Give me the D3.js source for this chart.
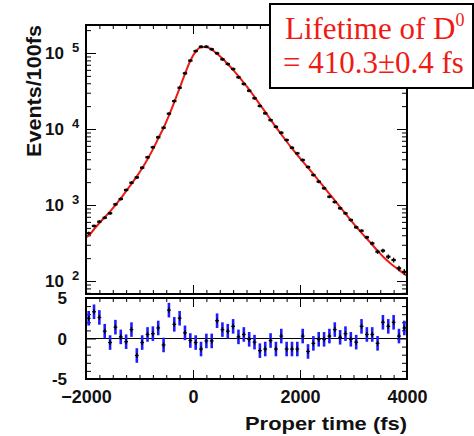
<!DOCTYPE html>
<html><head><meta charset="utf-8">
<script src="https://cdn.jsdelivr.net/npm/d3@7"></script>
<style>
html,body{margin:0;padding:0;background:#fff;}
svg{display:block;}
</style></head>
<body>
<svg id="chart" width="474" height="436"></svg>
<script>
// ---- data ----
const binCenters = [-1950,-1850,-1750,-1650,-1550,-1450,-1350,-1250,-1150,-1050,-950,-850,-750,-650,-550,-450,-350,-250,-150,-50,
  50,150,250,350,450,550,650,750,850,950,1050,1150,1250,1350,1450,1550,1650,1750,1850,1950,
  2050,2150,2250,2350,2450,2550,2650,2750,2850,2950,3050,3150,3250,3350,3450,3550,3650,3750,3850,3950];
const counts = [425,530,603,680,778,1020,1200,1575,1965,2310,3095,4245,5745,7780,10400,15900,23300,34900,54000,79300,
  106000,121000,121000,112000,99000,82600,71600,61500,47900,39100,31900,25400,20100,16100,13100,10700,8940,7160,5670,4790,
  3910,3160,2480,2030,1660,1285,1095,906,778,635,509,459,376,313,243,251,209,189,147,132];
const fitTimes = [-2000,-1950,-1850,-1750,-1650,-1550,-1450,-1350,-1250,-1150,-1050,-950,-850,-750,-650,-550,-450,-350,-250,-150,-50,
  50,150,250,350,450,550,650,750,850,950,1050,1150,1250,1350,1450,1550,1650,1750,1850,1950,
  2050,2150,2250,2350,2450,2550,2650,2750,2850,2950,3050,3150,3250,3350,3450,3550,3650,3750,3850,3950,4000];
const fitValues = [375,395,480,580,690,820,1000,1220,1520,1900,2380,3050,4000,5400,7500,10400,15000,22500,34500,53000,79000,
  104000,119000,120000,111000,98000,84500,71500,60000,49500,40500,33000,26500,21000,16800,13300,10600,8500,6850,5550,4550,
  3750,3100,2550,2100,1720,1400,1150,940,770,630,520,430,360,300,250,210,180,158,140,124,117];
const pulls = [2.5,3.3,2.6,0.9,-0.5,1.4,0.2,-0.4,1.1,-2.1,-0.5,0.5,0.6,1.3,-0.8,3.5,1.75,2.5,0.7,-0.25,
  -0.5,-1.3,-0.3,-0.3,2.2,1.1,0.9,1.5,0.2,0.5,-0.1,-0.45,-1.5,-1.3,-0.25,-1.3,0.3,-1.3,-1.3,-1.3,
  0.3,-1.6,-0.6,-0.1,-0.1,0.3,1.1,0.15,0.6,-0.1,-0.45,1.5,0.5,0.5,-0.6,2.0,1.5,2.0,0.3,1.3];
const pullErr = [0.9,0.9,0.9,0.9,0.9,0.9,0.9,0.9,0.9,0.9,0.9,0.9,0.9,0.9,0.9,0.9,0.9,0.9,0.9,0.9,
  0.9,0.9,0.9,0.9,0.9,0.9,0.9,0.9,0.9,0.9,0.9,0.9,0.9,0.9,0.9,0.9,0.9,0.9,0.9,0.9,
  0.9,0.9,0.9,0.9,0.9,0.9,0.9,0.9,0.9,0.9,0.9,0.9,0.9,0.9,0.9,0.9,0.9,0.9,0.9,0.9];
const xTickLabels = [-2000,0,2000,4000];
const yDecades = [2,3,4,5];
const resTickLabels = [-5,0,5];
const binWidth = 100;
const xTitle = "Proper time (fs)";
const yTitle = "Events/100fs";
const legendLine1 = "Lifetime of D";
const legendSup = "0";
const legendLine2 = "= 410.3\u00B10.4 fs";

// ---- layout ----
const L = 86, R = 407, T1 = 25, B1 = 294, T2 = 298, B2 = 379;
const SANS = "'Liberation Sans', Arial, sans-serif";
const SERIF = "'Liberation Serif', 'Times New Roman', serif";
const svg = d3.select("#chart");
const x = d3.scaleLinear().domain([-2000,4000]).range([L,R]);
const y = d3.scaleLog().domain([67.5,233500]).range([B1,T1]);
const yr = d3.scaleLinear().domain([-5,5]).range([B2,T2]);
const red = "#f01a14", blue = "#1c1cff";

svg.append("rect").attr("width",474).attr("height",436).attr("fill","#fff");

svg.append("clipPath").attr("id","c1").append("rect").attr("x",L).attr("y",T1).attr("width",R-L).attr("height",B1-T1);
svg.append("clipPath").attr("id","c2").append("rect").attr("x",L).attr("y",T2).attr("width",R-L).attr("height",B2-T2);

// ---- ticks ----
const minorX = d3.range(-2000,4001,250);
function xTicks(g, yPos, dir){
  g.append("g").attr("transform",`translate(0,${yPos})`)
    .call((dir>0?d3.axisTop(x):d3.axisBottom(x)).tickValues(minorX).tickSize(-4).tickFormat(""))
    .call(s=>s.select(".domain").remove());
  g.append("g").attr("transform",`translate(0,${yPos})`)
    .call((dir>0?d3.axisTop(x):d3.axisBottom(x)).tickValues(xTickLabels).tickSize(-9).tickFormat(""))
    .call(s=>s.select(".domain").remove());
}
const tg = svg.append("g");
xTicks(tg, T1, 1); xTicks(tg, B1, -1); xTicks(tg, T2, 1); xTicks(tg, B2, -1);

const logMinor = [];
[1,2,3,4,5].forEach(d=>{ for(let m=1;m<10;m++){ const v=m*Math.pow(10,d); if(v>=67.5&&v<=233500) logMinor.push(v);} });
const logMajor = yDecades.map(d=>Math.pow(10,d));
const logMinorOnly = logMinor.filter(v=>!logMajor.includes(v));
svg.append("g").attr("transform",`translate(${L},0)`).call(d3.axisLeft(y).tickValues(logMinorOnly).tickSize(-5).tickFormat("")).call(s=>s.select(".domain").remove());
svg.append("g").attr("transform",`translate(${L},0)`).call(d3.axisLeft(y).tickValues(logMajor).tickSize(-10).tickFormat("")).call(s=>s.select(".domain").remove());
svg.append("g").attr("transform",`translate(${R},0)`).call(d3.axisRight(y).tickValues(logMinorOnly).tickSize(-5).tickFormat("")).call(s=>s.select(".domain").remove());
svg.append("g").attr("transform",`translate(${R},0)`).call(d3.axisRight(y).tickValues(logMajor).tickSize(-10).tickFormat("")).call(s=>s.select(".domain").remove());

const resMinor = d3.range(-5,6,1).filter(v=>!resTickLabels.includes(v));
[[L,d3.axisLeft],[R,d3.axisRight]].forEach(([px,ax])=>{
  svg.append("g").attr("transform",`translate(${px},0)`).call(ax(yr).tickValues(resMinor).tickSize(-5).tickFormat("")).call(s=>s.select(".domain").remove());
  svg.append("g").attr("transform",`translate(${px},0)`).call(ax(yr).tickValues(resTickLabels).tickSize(-10).tickFormat("")).call(s=>s.select(".domain").remove());
});

// ---- top panel: fit curve and data ----
const topG = svg.append("g").attr("clip-path","url(#c1)");
topG.append("path")
  .datum(fitTimes.map((t,i)=>[t,fitValues[i]]))
  .attr("fill","none").attr("stroke",red).attr("stroke-width",2)
  .attr("d", d3.line().x(d=>x(d[0])).y(d=>y(d[1])).curve(d3.curveMonotoneX));
const pts = topG.append("g").attr("stroke","#000");
binCenters.forEach((t,i)=>{
  const v = counts[i], e = Math.sqrt(v);
  pts.append("line").attr("x1",x(t-binWidth/2)+0.5).attr("x2",x(t+binWidth/2)-0.5)
    .attr("y1",y(v)).attr("y2",y(v)).attr("stroke-width",2.2);
  const ya = Math.min(y(v+e), y(v)-1.5), yb = Math.max(y(v-e), y(v)+1.5);
  pts.append("line").attr("x1",x(t)).attr("x2",x(t)).attr("y1",ya).attr("y2",yb).attr("stroke-width",1.4);
});

// ---- residual panel ----
const botG = svg.append("g").attr("clip-path","url(#c2)");
botG.append("line").attr("x1",L).attr("x2",R).attr("y1",yr(0)).attr("y2",yr(0)).attr("stroke","#000").attr("stroke-width",1.2);
binCenters.forEach((t,i)=>{
  const p = pulls[i], e = pullErr[i];
  botG.append("line").attr("x1",x(t)).attr("x2",x(t)).attr("y1",yr(p+e)).attr("y2",yr(p-e))
    .attr("stroke",blue).attr("stroke-width",2.6);
  botG.append("line").attr("x1",x(t-binWidth/2)+0.8).attr("x2",x(t+binWidth/2)-0.8)
    .attr("y1",yr(p)).attr("y2",yr(p)).attr("stroke","#000").attr("stroke-width",1.3);
  botG.append("line").attr("x1",x(t)).attr("x2",x(t)).attr("y1",yr(p)-2.5).attr("y2",yr(p)+2.5)
    .attr("stroke","#000").attr("stroke-width",1.3);
});

// ---- frames ----
svg.append("rect").attr("x",L).attr("y",T1).attr("width",R-L).attr("height",B1-T1)
  .attr("fill","none").attr("stroke","#000").attr("stroke-width",2);
svg.append("rect").attr("x",L).attr("y",T2).attr("width",R-L).attr("height",B2-T2)
  .attr("fill","none").attr("stroke","#000").attr("stroke-width",2);

// ---- labels ----
const lab = svg.append("g").style("font-family",SANS).style("font-weight","bold").attr("fill","#111");
yDecades.forEach(d=>{
  const yy = y(Math.pow(10,d));
  lab.append("text").attr("x",64).attr("y",yy+6).attr("text-anchor","end").style("font-size","17px").text("10");
  lab.append("text").attr("x",72).attr("y",yy-1).style("font-size","13px").text(d);
});
resTickLabels.forEach(v=>{
  lab.append("text").attr("x",67).attr("y",yr(v)+6).attr("text-anchor","end").style("font-size","17px").text(v);
});
svg.append("g").attr("transform",`translate(0,${B2})`)
  .call(d3.axisBottom(x).tickValues(xTickLabels).tickSize(0).tickPadding(11).tickFormat(d3.format("d")))
  .call(s=>s.select(".domain").remove())
  .call(s=>s.selectAll("text").style("font-size","18px").style("font-weight","bold").attr("fill","#111")
        .style("font-family",SANS));

lab.append("text").attr("x",R).attr("y",430).attr("text-anchor","end").style("font-size","19px")
  .attr("textLength",162).attr("lengthAdjust","spacingAndGlyphs").text(xTitle);
lab.append("text").attr("transform","translate(41,157) rotate(-90)").style("font-size","20px")
  .attr("textLength",132).attr("lengthAdjust","spacingAndGlyphs").text(yTitle);

// ---- legend box ----
const lg = svg.append("g");
lg.append("rect").attr("x",270).attr("y",4).attr("width",203).attr("height",84)
  .attr("fill","#fff").attr("stroke","#000").attr("stroke-width",2);
const t1 = lg.append("text").attr("x",285).attr("y",39).style("font-family",SERIF)
  .style("font-size","31px").attr("fill",red);
t1.append("tspan").text(legendLine1);
t1.append("tspan").attr("dy",-13).style("font-size","18px").text(legendSup);
lg.append("text").attr("x",283).attr("y",73).style("font-family",SERIF)
  .style("font-size","31px").attr("fill",red).text(legendLine2);
</script>
</body></html>
